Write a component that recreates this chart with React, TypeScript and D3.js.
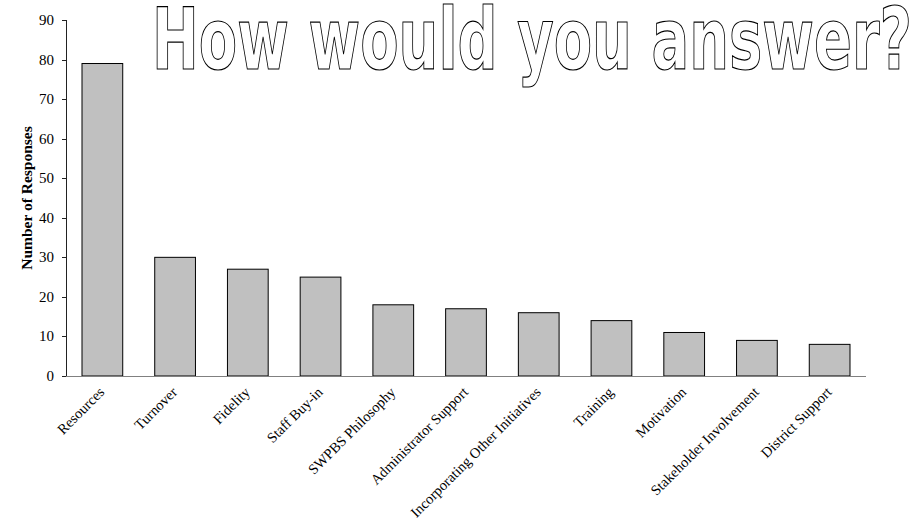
import React from "react";
import * as d3 from "d3";

const categories = [
  "Resources",
  "Turnover",
  "Fidelity",
  "Staff Buy-in",
  "SWPBS Philosophy",
  "Administrator Support",
  "Incorporating Other Initiatives",
  "Training",
  "Motivation",
  "Stakeholder Involvement",
  "District Support",
];
const responses = [79, 30, 27, 25, 18, 17, 16, 14, 11, 9, 8];
const yTicks = [0, 10, 20, 30, 40, 50, 60, 70, 80, 90];
const title = "How would you answer?";
const yTitle = "Number of Responses";

const W = 924;
const H = 529;
const left = 66;
const right = 866;
const top = 20;
const bottom = 376;

export default function App() {
  const x = d3.scaleBand<string>().domain(categories).range([left, right]).paddingInner(0.44).paddingOuter(0.22);
  const y = d3.scaleLinear().domain([0, 90]).range([bottom, top]);
  const serif = "'Liberation Serif', 'Times New Roman', serif";
  return (
    <svg width={W} height={H} style={{ position: "absolute", left: 0, top: 0 }}>
      <rect x={0} y={0} width={W} height={H} fill="#fff" />
      {categories.map((c, i) => (
        <rect
          key={c}
          x={x(c)}
          y={y(responses[i])}
          width={x.bandwidth()}
          height={bottom - y(responses[i])}
          fill="#c0c0c0"
          stroke="#000"
          strokeWidth={1}
        />
      ))}
      <line x1={left} x2={right} y1={bottom + 0.5} y2={bottom + 0.5} stroke="#808080" strokeWidth={1} />
      <line x1={left + 0.5} x2={left + 0.5} y1={top} y2={bottom} stroke="#222" strokeWidth={1} />
      {yTicks.map((t) => (
        <g key={t}>
          <line x1={left - 4} x2={left} y1={Math.round(y(t)) + 0.5} y2={Math.round(y(t)) + 0.5} stroke="#222" />
          <text x={left - 12} y={y(t) + 5} textAnchor="end" fontFamily={serif} fontSize={15} fill="#000">
            {t}
          </text>
        </g>
      ))}
      {categories.map((c) => {
        const cx = (x(c) as number) + x.bandwidth() / 2 + 3;
        const cy = bottom + 17;
        return (
          <text
            key={c + "l"}
            transform={`translate(${cx},${cy}) rotate(-45)`}
            textAnchor="end"
            fontFamily={serif}
            fontSize={14.5}
            fill="#000"
          >
            {c}
          </text>
        );
      })}
      <text
        transform={`translate(32,198) rotate(-90)`}
        textAnchor="middle"
        fontFamily={serif}
        fontWeight="bold"
        fontSize={15.5}
        fill="#000"
      >
        {yTitle}
      </text>
      <text
        x={152}
        y={69}
        textLength={760}
        lengthAdjust="spacingAndGlyphs"
        fontFamily="'DejaVu Sans', sans-serif"
        fontWeight="bold"
        fontSize={86}
        fill="#fff"
        stroke="#000"
        strokeWidth={1.2}
      >
        {title}
      </text>
    </svg>
  );
}
